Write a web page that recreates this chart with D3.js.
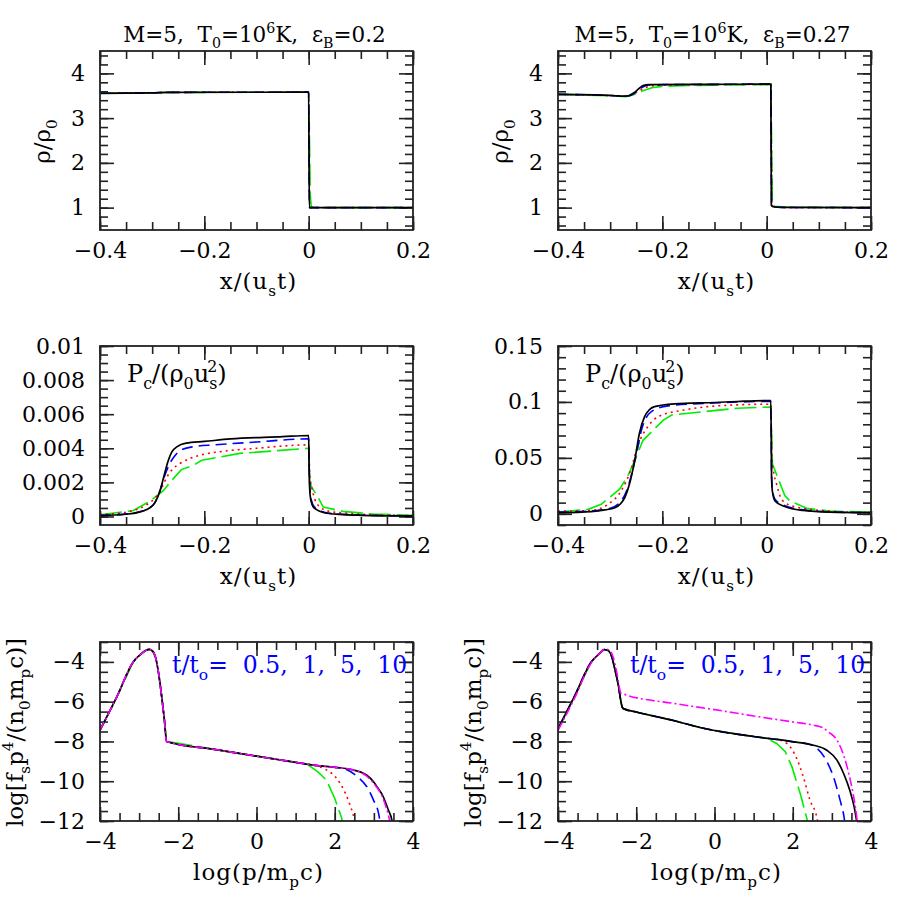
<!DOCTYPE html>
<html>
<head>
<meta charset="utf-8">
<script src="https://cdn.jsdelivr.net/npm/d3@7"></script>
<style>
  body { margin: 0; background: #fff; }
  svg text { font-family: "DejaVu Serif", serif; fill: #000; white-space: pre; }
</style>
</head>
<body>
<svg id="chart" width="919" height="919"></svg>
<script>
// ---- tick values / labels ----
const xTickPos = [-0.4, -0.2, 0, 0.2];
const xTickLab = ["\u22120.4", "\u22120.2", "0", "0.2"];
const rhoTickPos = [1, 2, 3, 4];
const rhoTickLab = ["1", "2", "3", "4"];
const pcLTickPos = [0, 0.002, 0.004, 0.006, 0.008, 0.01];
const pcLTickLab = ["0", "0.002", "0.004", "0.006", "0.008", "0.01"];
const pcRTickPos = [0, 0.05, 0.1, 0.15];
const pcRTickLab = ["0", "0.05", "0.1", "0.15"];
const pTickPos = [-4, -2, 0, 2, 4];
const pTickLab = ["\u22124", "\u22122", "0", "2", "4"];
const fTickPos = [-12, -10, -8, -6, -4];
const fTickLab = ["\u221212", "\u221210", "\u22128", "\u22126", "\u22124"];

// ---- density, eps_B = 0.2 ----
const rhoA_k = [[-0.4,3.555],[-0.3,3.565],[-0.27,3.575],[0,3.58],[0.0012,1.0],[0.2,1.0]];
const rhoA_b = [[-0.4,3.555],[-0.3,3.565],[-0.27,3.575],[0,3.58],[0.0015,1.0],[0.2,1.0]];
const rhoA_r = [[-0.4,3.555],[-0.3,3.565],[-0.27,3.575],[0,3.58],[0.002,1.05],[0.004,1.0],[0.2,1.0]];
const rhoA_g = [[-0.4,3.555],[-0.3,3.565],[-0.27,3.575],[0,3.58],[0.001,3.0],[0.003,1.3],[0.005,1.02],[0.01,1.0],[0.2,1.0]];

// ---- density, eps_B = 0.27 ----
const rhoB_k = [[-0.4,3.53],[-0.33,3.52],[-0.29,3.5],[-0.275,3.49],[-0.265,3.5],[-0.255,3.56],[-0.245,3.66],[-0.237,3.73],[-0.225,3.75],[-0.1,3.755],[0.008,3.76],[0.009,1.05],[0.012,1.02],[0.03,1.005],[0.2,1.0]];
const rhoB_b = [[-0.4,3.53],[-0.29,3.5],[-0.275,3.49],[-0.263,3.5],[-0.253,3.56],[-0.243,3.66],[-0.233,3.72],[-0.22,3.745],[-0.1,3.755],[0.008,3.76],[0.0095,1.05],[0.013,1.02],[0.03,1.005],[0.2,1.0]];
const rhoB_r = [[-0.4,3.53],[-0.29,3.5],[-0.272,3.49],[-0.26,3.51],[-0.25,3.57],[-0.24,3.64],[-0.225,3.71],[-0.2,3.74],[0.008,3.755],[0.01,1.06],[0.015,1.02],[0.04,1.0],[0.2,1.0]];
const rhoB_g = [[-0.4,3.53],[-0.3,3.5],[-0.27,3.48],[-0.255,3.52],[-0.24,3.6],[-0.22,3.68],[-0.2,3.71],[-0.15,3.73],[0.008,3.75],[0.011,1.08],[0.015,1.03],[0.04,1.01],[0.2,1.0]];

// ---- cosmic-ray pressure, eps_B = 0.2 ----
const pcA_k = [[-0.4,0.00005],[-0.35,0.00013],[-0.32,0.0003],[-0.305,0.0005],[-0.295,0.0008],[-0.285,0.0015],[-0.278,0.0023],[-0.27,0.0032],[-0.262,0.0038],[-0.252,0.0041],[-0.235,0.0043],[-0.2,0.0044],[-0.15,0.00455],[-0.05,0.00468],[0,0.00475],[0.001,0.0025],[0.003,0.0012],[0.008,0.0006],[0.015,0.0004],[0.03,0.00022],[0.06,0.00012],[0.1,0.00007],[0.2,0.00003]];
const pcA_b = [[-0.4,0.00007],[-0.35,0.00015],[-0.32,0.0003],[-0.305,0.0005],[-0.295,0.0008],[-0.285,0.0015],[-0.277,0.0023],[-0.268,0.003],[-0.258,0.0035],[-0.245,0.0039],[-0.22,0.0041],[-0.18,0.0042],[-0.1,0.00437],[0,0.00455],[0.001,0.003],[0.003,0.0014],[0.008,0.0007],[0.015,0.00045],[0.03,0.00025],[0.06,0.00013],[0.2,0.00003]];
const pcA_r = [[-0.4,0.00012],[-0.36,0.0002],[-0.336,0.00035],[-0.31,0.0007],[-0.294,0.0011],[-0.283,0.0016],[-0.272,0.0023],[-0.26,0.0028],[-0.247,0.0031],[-0.228,0.0034],[-0.208,0.0036],[-0.17,0.0038],[-0.1,0.004],[0,0.0042],[0.002,0.0025],[0.006,0.0017],[0.012,0.001],[0.022,0.00055],[0.04,0.0003],[0.07,0.0002],[0.12,0.0001],[0.2,0.00005]];
const pcA_g = [[-0.4,0.0001],[-0.336,0.00035],[-0.304,0.0009],[-0.279,0.0015],[-0.266,0.002],[-0.244,0.00275],[-0.221,0.003],[-0.205,0.0033],[-0.132,0.0037],[0,0.004],[0.002,0.0021],[0.006,0.0017],[0.0185,0.0011],[0.028,0.00055],[0.066,0.0003],[0.124,0.00014],[0.2,0.00007]];

// ---- cosmic-ray pressure, eps_B = 0.27 ----
const pcB_k = [[-0.4,0.001],[-0.336,0.002],[-0.31,0.0035],[-0.291,0.0054],[-0.28,0.009],[-0.272,0.0145],[-0.263,0.0266],[-0.253,0.0476],[-0.244,0.0718],[-0.234,0.0868],[-0.225,0.093],[-0.215,0.0958],[-0.177,0.0983],[-0.1,0.0995],[-0.056,0.1004],[0.008,0.1013],[0.0095,0.03],[0.011,0.02],[0.016,0.0115],[0.032,0.007],[0.07,0.003],[0.121,0.0015],[0.2,0.001]];
const pcB_b = [[-0.4,0.0015],[-0.336,0.0025],[-0.3,0.005],[-0.279,0.0115],[-0.268,0.021],[-0.258,0.037],[-0.248,0.057],[-0.24,0.0748],[-0.221,0.0913],[-0.189,0.0965],[-0.1,0.099],[0.008,0.1005],[0.0095,0.035],[0.011,0.022],[0.016,0.013],[0.032,0.0078],[0.07,0.0035],[0.121,0.0017],[0.2,0.001]];
const pcB_r = [[-0.4,0.0024],[-0.336,0.003],[-0.304,0.0085],[-0.279,0.0205],[-0.26,0.04],[-0.247,0.061],[-0.228,0.0778],[-0.208,0.0868],[-0.157,0.0929],[-0.056,0.0974],[0.008,0.098],[0.01,0.05],[0.0128,0.0386],[0.019,0.0266],[0.0255,0.016],[0.035,0.01],[0.0575,0.006],[0.121,0.0024],[0.2,0.001]];
const pcB_g = [[-0.4,0.0015],[-0.342,0.004],[-0.317,0.0085],[-0.282,0.022],[-0.266,0.034],[-0.253,0.0476],[-0.237,0.0657],[-0.198,0.0838],[-0.182,0.0883],[-0.056,0.0944],[0.008,0.0955],[0.011,0.0447],[0.035,0.016],[0.0445,0.0115],[0.0766,0.0049],[0.121,0.0024],[0.2,0.0015]];

// ---- spectra, eps_B = 0.2 (shared low-momentum part + tails) ----
const fA_head = [[-4,-7.43],[-3.57,-5.76],[-3.15,-4.0],[-2.95,-3.6],[-2.82,-3.42],[-2.74,-3.37],[-2.65,-3.47],[-2.57,-3.85],[-2.5,-4.6],[-2.42,-5.8],[-2.35,-7.0],[-2.3,-8.0],[-1,-8.42],[0,-8.74],[1,-9.05]];
const fA_g = [[1.3,-9.15],[1.57,-9.53],[1.79,-9.95],[2.0,-10.87],[2.18,-11.87],[2.2,-12.2]];
const fA_r = [[1.4,-9.17],[1.76,-9.4],[2.05,-9.86],[2.27,-10.6],[2.39,-11.2],[2.5,-11.95],[2.52,-12.2]];
const fA_b = [[1.5,-9.2],[2.0,-9.3],[2.22,-9.36],[2.6,-9.81],[2.82,-10.28],[2.99,-10.95],[3.12,-11.62],[3.17,-12.2]];
const fA_k = [[1.5,-9.2],[2.0,-9.3],[2.4,-9.4],[2.65,-9.53],[2.82,-9.7],[2.99,-10.03],[3.08,-10.28],[3.24,-10.78],[3.37,-11.45],[3.46,-11.95],[3.48,-12.2]];
const fA_m = [[1.5,-9.2],[2.0,-9.3],[2.4,-9.4],[2.65,-9.55],[2.82,-9.75],[2.99,-10.1],[3.24,-10.9],[3.37,-11.7],[3.43,-12.2]];

// ---- spectra, eps_B = 0.27 ----
const fB_head = [[-4,-7.36],[-3.57,-5.7],[-3.15,-4.0],[-2.95,-3.6],[-2.82,-3.38],[-2.74,-3.4],[-2.65,-3.6],[-2.56,-4.25],[-2.45,-5.26],[-2.4,-5.9],[-2.36,-6.27],[-2.33,-6.35],[-2,-6.52],[-1,-6.97],[-0.37,-7.3],[0,-7.45],[1,-7.75],[1.3,-7.83]];
const fB_g = [[1.34,-7.85],[1.59,-8.1],[1.81,-8.52],[1.98,-9.28],[2.19,-10.61],[2.36,-11.87],[2.39,-12.2]];
const fB_r = [[1.6,-7.9],[1.85,-8.1],[2.1,-8.85],[2.27,-9.78],[2.44,-10.95],[2.62,-11.87],[2.65,-12.2]];
const fB_b = [[1.6,-7.9],[2.02,-8.02],[2.36,-8.12],[2.57,-8.27],[2.83,-8.86],[3.04,-9.78],[3.21,-10.95],[3.31,-11.79],[3.34,-12.2]];
const fB_k = [[1.6,-7.9],[2.02,-8.02],[2.53,-8.19],[2.87,-8.44],[3.13,-8.94],[3.3,-9.61],[3.47,-10.53],[3.57,-11.29],[3.65,-12.2]];
const fB_m = [[-4,-7.44],[-3.57,-5.8],[-3.15,-4.05],[-2.95,-3.6],[-2.8,-3.35],[-2.7,-3.4],[-2.6,-3.7],[-2.5,-4.5],[-2.43,-5.3],[-2.4,-5.55],[-2.35,-5.6],[-1,-6.1],[0,-6.4],[1,-6.72],[2,-7.02],[2.53,-7.18],[2.75,-7.3],[2.91,-7.52],[3.13,-7.93],[3.3,-8.69],[3.47,-9.94],[3.6,-11.29],[3.66,-12.2]];

// ---- styles ----
const sty = {
  g: { color: "#00ee00", dash: "22,6", curve: d3.curveLinear },
  r: { color: "#ff0000", dash: "2,4", curve: d3.curveMonotoneX },
  b: { color: "#0000ff", dash: "11,6", curve: d3.curveMonotoneX },
  k: { color: "#000000", dash: null, curve: d3.curveMonotoneX },
  m: { color: "#ff00ff", dash: "9,3,2,3", curve: d3.curveMonotoneX },
};

const svg = d3.select("#chart");
const W = 313, H = 179;
const FS = 22;

// text with sub/superscripts: parts = [[str, kind, dx]]
function rich(t, parts, fs) {
  let off = 0;
  parts.forEach(([s, k, dx]) => {
    const target = k === "sub" ? 0.3 * fs : k === "sup" ? -0.42 * fs : 0;
    const ts = t.append("tspan").text(s).attr("dy", target - off);
    if (k) ts.attr("font-size", fs * 0.66);
    if (dx) ts.attr("dx", dx);
    off = target;
  });
}

let clipId = 0;
function panel(cfg) {
  const g = svg.append("g").attr("transform", `translate(${cfg.left},${cfg.top})`);
  const x = d3.scaleLinear(cfg.xDom, [0, W]);
  const y = d3.scaleLinear(cfg.yDom, [H, 0]);

  const minorX = d3.range(cfg.xDom[0], cfg.xDom[1] + 1e-9, cfg.xStep);
  const minorY = d3.range(cfg.yStart, cfg.yDom[1] + 1e-12, cfg.yStep);

  const axes = [
    [d3.axisBottom(x).tickValues(cfg.xMajor).tickSize(-14).tickPadding(12).tickFormat((d, i) => cfg.xLab[i]), `translate(0,${H})`],
    [d3.axisBottom(x).tickValues(minorX).tickSize(-8).tickFormat(""), `translate(0,${H})`],
    [d3.axisTop(x).tickValues(cfg.xMajor).tickSize(-14).tickFormat(""), null],
    [d3.axisTop(x).tickValues(minorX).tickSize(-8).tickFormat(""), null],
    [d3.axisLeft(y).tickValues(cfg.yMajor).tickSize(-14).tickPadding(15).tickFormat((d, i) => cfg.yLab[i]), null],
    [d3.axisLeft(y).tickValues(minorY).tickSize(-8).tickFormat(""), null],
    [d3.axisRight(y).tickValues(cfg.yMajor).tickSize(-14).tickFormat(""), `translate(${W},0)`],
    [d3.axisRight(y).tickValues(minorY).tickSize(-8).tickFormat(""), `translate(${W},0)`],
  ];
  axes.forEach(([ax, tr]) => {
    const a = g.append("g").attr("transform", tr).call(ax)
      .attr("font-size", FS).attr("font-family", null);
    a.select(".domain").remove();
    a.selectAll(".tick line").attr("stroke", "#222").attr("stroke-width", 1.6);
  });

  const id = "clip" + (clipId++);
  g.append("clipPath").attr("id", id).append("rect").attr("width", W).attr("height", H);

  const line = d3.line().x(d => x(d[0])).y(d => y(d[1]));
  const plot = g.append("g").attr("clip-path", `url(#${id})`);
  cfg.series.forEach(([data, key]) => {
    const s = sty[key];
    plot.append("path")
      .attr("d", line.curve(s.curve)(data))
      .attr("fill", "none")
      .attr("stroke", s.color)
      .attr("stroke-width", key === "k" ? 1.7 : 1.6)
      .attr("stroke-dasharray", s.dash);
  });

  g.append("rect").attr("width", W).attr("height", H)
    .attr("fill", "none").attr("stroke", "#222").attr("stroke-width", 1.8);

  if (cfg.title) {
    const t = g.append("text").attr("x", W / 2 - 2).attr("y", -9)
      .attr("text-anchor", "middle").attr("font-size", 21.5);
    rich(t, cfg.title, 21.5);
  }
  if (cfg.xlabel) {
    const t = g.append("text").attr("x", W / 2 + 2).attr("y", H + 59)
      .attr("text-anchor", "middle").attr("font-size", 23).attr("letter-spacing", 1);
    rich(t, cfg.xlabel, 23);
  }
  if (cfg.ylabel) {
    const t = g.append("text").attr("text-anchor", "middle").attr("font-size", 23)
      .attr("transform", `translate(${cfg.ylabelX},${H / 2 + 1}) rotate(-90)`);
    rich(t, cfg.ylabel, 23);
  }
  if (cfg.note) {
    const t = g.append("text").attr("x", cfg.note.x).attr("y", cfg.note.y)
      .attr("font-size", cfg.note.size).style("fill", cfg.note.color || "#000");
    rich(t, cfg.note.parts, cfg.note.size);
  }
}

const xLabelParts = [["x/(u"], ["s", "sub"], ["t)"]];
const rhoLabel = [["\u03c1/\u03c1"], ["0", "sub"]];
const pcNote = [["P"], ["c", "sub"], ["/(\u03c1"], ["0", "sub"], ["u"], ["s", "sub"], ["2", "sup", -10], [")"]];
const fLabel = [["log[f"], ["s", "sub"], ["p"], ["4", "sup"], ["/(n"], ["0", "sub"], ["m"], ["p", "sub"], ["c)]"]];
const pLabel = [["log(p/m"], ["p", "sub"], ["c)"]];
const legend = [["t/t"], ["o", "sub"], ["=  0.5,  1,  5,  10"]];
const titleA = [["M=5,  T"], ["0", "sub"], ["=10"], ["6", "sup"], ["K,  \u03b5"], ["B", "sub"], ["=0.2"]];
const titleB = [["M=5,  T"], ["0", "sub"], ["=10"], ["6", "sup"], ["K,  \u03b5"], ["B", "sub"], ["=0.27"]];

const xSpace = { xDom: [-0.4, 0.2], xMajor: xTickPos, xLab: xTickLab, xStep: 0.05, xlabel: xLabelParts };
const pSpace = { xDom: [-4, 4], xMajor: pTickPos, xLab: pTickLab, xStep: 0.5, xlabel: pLabel };

const rhoY = { yDom: [0.5, 4.5], yMajor: rhoTickPos, yLab: rhoTickLab, yStart: 0.6, yStep: 0.2, ylabel: rhoLabel, ylabelX: -50 };
const fY = { yDom: [-12, -3], yMajor: fTickPos, yLab: fTickLab, yStart: -12, yStep: 0.5, ylabel: fLabel, ylabelX: -77 };

panel({ left: 100, top: 51, ...xSpace, ...rhoY, title: titleA,
  series: [[rhoA_g, "g"], [rhoA_r, "r"], [rhoA_b, "b"], [rhoA_k, "k"]] });
panel({ left: 558, top: 51, ...xSpace, ...rhoY, title: titleB,
  series: [[rhoB_g, "g"], [rhoB_r, "r"], [rhoB_b, "b"], [rhoB_k, "k"]] });

panel({ left: 100, top: 346, ...xSpace,
  yDom: [-0.0005, 0.01], yMajor: pcLTickPos, yLab: pcLTickLab, yStart: 0, yStep: 0.0005,
  note: { x: 27, y: 36, size: 24, parts: pcNote },
  series: [[pcA_g, "g"], [pcA_r, "r"], [pcA_b, "b"], [pcA_k, "k"]] });
panel({ left: 558, top: 346, ...xSpace,
  yDom: [-0.01, 0.15], yMajor: pcRTickPos, yLab: pcRTickLab, yStart: -0.01, yStep: 0.01,
  note: { x: 27, y: 36, size: 24, parts: pcNote },
  series: [[pcB_g, "g"], [pcB_r, "r"], [pcB_b, "b"], [pcB_k, "k"]] });

panel({ left: 100, top: 642, ...pSpace, ...fY,
  note: { x: 72, y: 31, size: 23.5, parts: legend, color: "#0000ff" },
  series: [[fA_head.concat(fA_g), "g"], [fA_head.concat(fA_r), "r"], [fA_head.concat(fA_b), "b"],
           [fA_head.concat(fA_k), "k"], [fA_head.concat(fA_m), "m"]] });
panel({ left: 558, top: 642, ...pSpace, ...fY,
  note: { x: 72, y: 31, size: 23.5, parts: legend, color: "#0000ff" },
  series: [[fB_head.concat(fB_g), "g"], [fB_head.concat(fB_r), "r"], [fB_head.concat(fB_b), "b"],
           [fB_head.concat(fB_k), "k"], [fB_m, "m"]] });
</script>
</body>
</html>
